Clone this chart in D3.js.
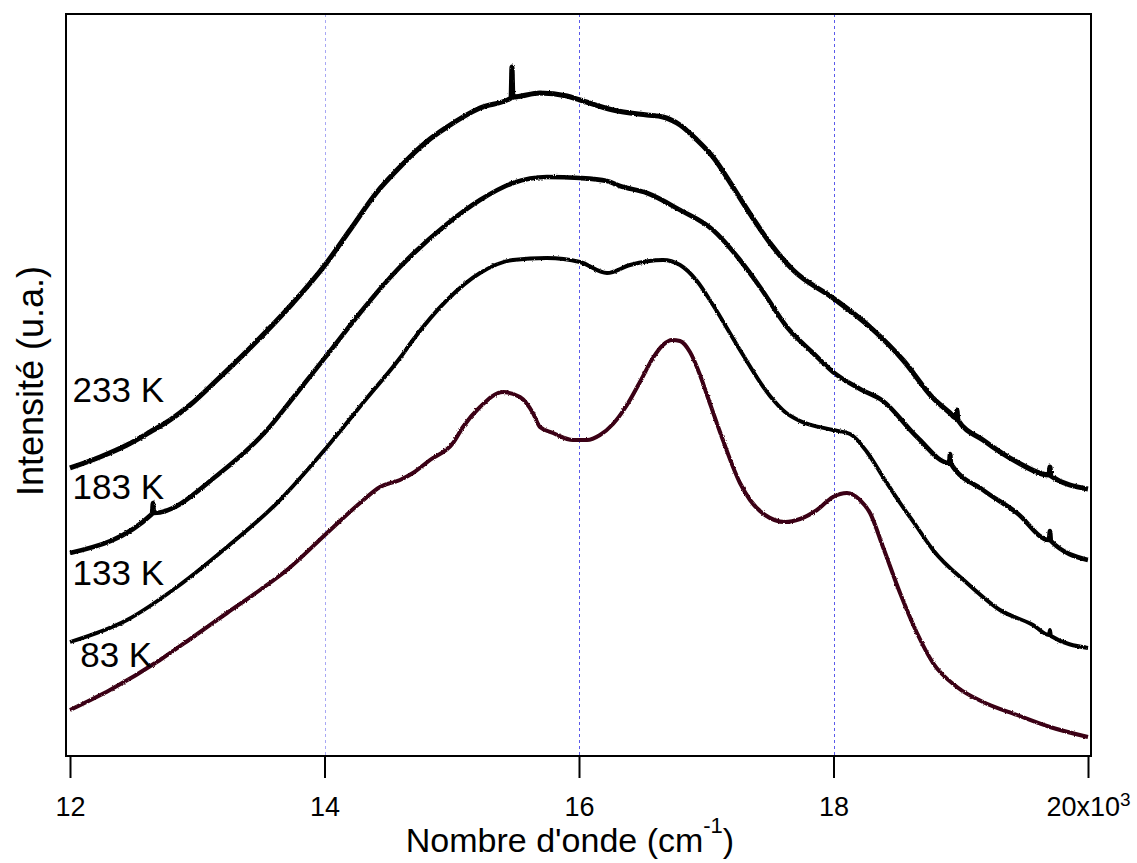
<!DOCTYPE html>
<html>
<head>
<meta charset="utf-8">
<script src="https://cdn.jsdelivr.net/npm/d3@7"></script>
<style>
  html, body { margin: 0; padding: 0; background: #fff; }
  svg { display: block; font-family: "Liberation Sans", Arial, Helvetica, sans-serif; }
</style>
</head>
<body>
<svg id="chart" width="1137" height="863"></svg>
<script>
// Emission spectra at four temperatures, vertically offset (arbitrary units).
// Wavenumber in cm^-1, intensity in a.u.

const xTicks = [12000, 14000, 16000, 18000, 20000];
const gridLines = [14000, 16000, 18000];

const wn233 = [12000, 12236, 12448, 12629, 12786, 12943, 13155, 13391, 13752, 14004, 14200, 14413, 14593, 14695, 14829, 14963, 15222, 15466, 15473, 15481, 15693, 15906, 16008, 16267, 16534, 16660, 16794, 16927, 17053, 17210, 17289, 17501, 17682, 17996, 18287, 18546, 18782, 18916, 18962, 18970, 18978, 19175, 19442, 19693, 19701, 19709, 20000];
const int233 = [288, 299, 311, 324, 336, 351, 376, 405, 453, 491, 526, 564, 589, 602, 617, 629, 648, 658, 689, 659, 663, 660, 656, 646, 641, 639, 631, 616, 599, 569, 553, 513, 486, 458, 429, 396, 358, 343, 338, 346, 336, 316, 294, 281, 289, 280, 267];

const wn183 = [12000, 12644, 12652, 12660, 13179, 13548, 13752, 14020, 14279, 14436, 14593, 14695, 14963, 15222, 15481, 15748, 16008, 16220, 16322, 16534, 16794, 17053, 17265, 17422, 17634, 17839, 17996, 18208, 18389, 18656, 18908, 18916, 18924, 19175, 19442, 19693, 19701, 19709, 20000];
const int183 = [203, 242, 253, 243, 283, 326, 358, 401, 443, 467, 489, 502, 532, 556, 573, 579, 578, 575, 570, 563, 546, 526, 496, 469, 429, 403, 384, 367, 355, 319, 293, 302, 292, 266, 243, 216, 225, 215, 196];

const wn133 = [12000, 12448, 12841, 13234, 13627, 14020, 14334, 14593, 14695, 14963, 15222, 15481, 15748, 16008, 16220, 16401, 16660, 16794, 16927, 17053, 17265, 17501, 17619, 17737, 17996, 18130, 18263, 18389, 18523, 18656, 18782, 19049, 19308, 19568, 19693, 19701, 19709, 20000];
const int133 = [114, 136, 169, 209, 253, 309, 358, 398, 416, 456, 483, 496, 498, 494, 483, 491, 496, 491, 475, 451, 406, 360, 344, 335, 326, 322, 304, 279, 253, 229, 206, 173, 146, 131, 121, 126, 120, 108];

const wn83 = [12000, 12314, 12707, 12967, 13234, 13493, 13705, 14020, 14279, 14436, 14593, 14695, 14829, 15010, 15088, 15222, 15403, 15536, 15638, 15693, 15796, 15953, 16063, 16165, 16267, 16377, 16479, 16581, 16660, 16731, 16794, 16872, 16951, 17006, 17108, 17265, 17344, 17462, 17619, 17737, 17870, 17996, 18106, 18208, 18287, 18389, 18523, 18656, 18782, 18970, 19175, 19442, 19701, 20000];
const int83 = [46, 66, 96, 119, 143, 166, 186, 223, 253, 269, 276, 283, 296, 313, 329, 349, 364, 359, 343, 329, 323, 316, 316, 321, 332, 351, 374, 398, 411, 416, 415, 404, 381, 361, 324, 273, 256, 241, 234, 237, 246, 259, 263, 256, 243, 209, 163, 123, 93, 69, 54, 41, 29, 19];

const seriesNames = ["233 K", "183 K", "133 K", "83 K"];
const seriesColors = ["#000000", "#000000", "#000000", "#3a0012"];

const series = [
  { name: seriesNames[0], color: seriesColors[0], xs: wn233, ys: int233, label: [12020, 354], width: 5.0 },
  { name: seriesNames[1], color: seriesColors[1], xs: wn183, ys: int183, label: [12020, 257], width: 4.6 },
  { name: seriesNames[2], color: seriesColors[2], xs: wn133, ys: int133, label: [12020, 171], width: 3.9 },
  { name: seriesNames[3], color: seriesColors[3], xs: wn83,  ys: int83,  label: [12080, 89],  width: 4.0 }
];

const svg = d3.select("#chart");

// slight roughness on the traces, as in the measured (noisy) spectra
const defs = svg.append("defs");
const rough = defs.append("filter").attr("id", "rough")
  .attr("x", "-2%").attr("y", "-2%").attr("width", "104%").attr("height", "104%");
rough.append("feTurbulence").attr("type", "fractalNoise").attr("baseFrequency", "0.9 0.6")
  .attr("numOctaves", 1).attr("seed", 3).attr("result", "n");
rough.append("feDisplacementMap").attr("in", "SourceGraphic").attr("in2", "n")
  .attr("scale", 2.6).attr("xChannelSelector", "R").attr("yChannelSelector", "G");

const frame = { left: 66, right: 1091, top: 14, bottom: 756 };
const x = d3.scaleLinear().domain([12000, 20000]).range([70, 1088]);
const y = d3.scaleLinear().domain([0, 742]).range([756, 14]);
const crisp = v => Math.round(v) + 0.5;

// vertical dashed reference lines
svg.append("g")
  .selectAll("line")
  .data(gridLines)
  .join("line")
  .attr("x1", d => crisp(x(d))).attr("x2", d => crisp(x(d)))
  .attr("y1", frame.top).attr("y2", frame.bottom)
  .attr("stroke", (d, i) => i === 0 ? "#a8a8f4" : "#5a5aea")
  .attr("stroke-width", 1)
  .attr("stroke-dasharray", "3,3");

// spectra
const line = d3.line().curve(d3.curveMonotoneX);
svg.append("g")
  .attr("filter", "url(#rough)")
  .selectAll("path")
  .data(series)
  .join("path")
  .attr("d", s => line(s.xs.map((v, i) => [x(v), y(s.ys[i])])))
  .attr("fill", "none")
  .attr("stroke", s => s.color)
  .attr("stroke-width", s => s.width)
  .attr("stroke-linejoin", "round")
  .attr("stroke-linecap", "butt");

// temperature labels
svg.append("g")
  .selectAll("text")
  .data(series)
  .join("text")
  .attr("x", s => x(s.label[0]))
  .attr("y", s => y(s.label[1]))
  .attr("font-size", 35)
  .attr("fill", "#000")
  .text(s => s.name);

// frame
svg.append("rect")
  .attr("x", frame.left).attr("y", frame.top)
  .attr("width", frame.right - frame.left)
  .attr("height", frame.bottom - frame.top)
  .attr("fill", "none")
  .attr("stroke", "#000")
  .attr("stroke-width", 2);

// bottom axis
const xAxis = d3.axisBottom(x)
  .tickValues(xTicks)
  .tickSize(22)
  .tickPadding(19)
  .tickFormat(d => d / 1000);

const gx = svg.append("g")
  .attr("transform", `translate(0,${frame.bottom})`)
  .call(xAxis);
gx.select(".domain").remove();
gx.selectAll(".tick line").attr("stroke", "#000").attr("stroke-width", 2);
gx.selectAll(".tick text")
  .attr("font-size", 27)
  .attr("font-family", "Liberation Sans, Arial, sans-serif")
  .attr("fill", "#000");

// last tick carries the x10^3 multiplier
gx.selectAll(".tick text")
  .filter(d => d === xTicks[xTicks.length - 1])
  .text(null)
  .call(t => {
    t.append("tspan").text((xTicks[xTicks.length - 1] / 1000) + "x10");
    t.append("tspan").attr("dy", "-0.55em").attr("font-size", 19).text("3");
  });

// x title built from pieces so the exponent sits beside "cm"
const titleParts = [
  { text: "Nombre d'onde (cm", size: 34, dy: 0 },
  { text: "-1", size: 22, dy: -19 },
  { text: ")", size: 34, dy: 0 }
];
const titleBase = 852;
const gt = svg.append("g");
const pieces = titleParts.map(p => gt.append("text")
  .attr("font-size", p.size)
  .attr("fill", "#000")
  .attr("y", titleBase + p.dy)
  .text(p.text));
const widths = pieces.map(t => t.node().getComputedTextLength());
let cx = 570 - d3.sum(widths) / 2;
pieces.forEach((t, i) => { t.attr("x", cx); cx += widths[i]; });

svg.append("text")
  .attr("transform", `translate(43,381) rotate(-90)`)
  .attr("text-anchor", "middle")
  .attr("font-size", 36)
  .attr("fill", "#000")
  .text("Intensité (u.a.)");
</script>
</body>
</html>
